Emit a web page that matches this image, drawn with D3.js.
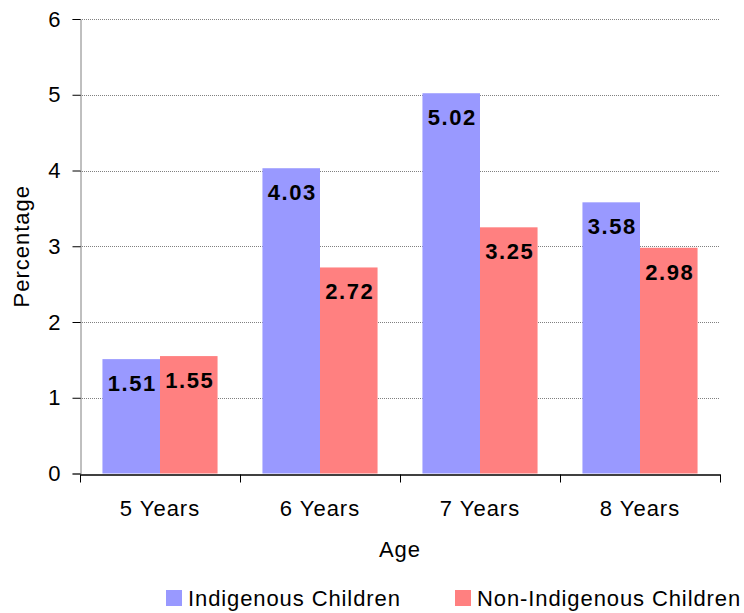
<!DOCTYPE html>
<html>
<head>
<meta charset="utf-8">
<script src="https://cdn.jsdelivr.net/npm/d3@7"></script>
<style>
  body { margin: 0; background: #fff; }
  svg { font-family: Arial, "Liberation Sans", sans-serif; }
</style>
</head>
<body>
<div id="chart"></div>
<script>
// data
const ages = ['5 Years', '6 Years', '7 Years', '8 Years'];
const seriesNames = ['Indigenous Children', 'Non-Indigenous Children'];
const indigenous = [1.51, 4.03, 5.02, 3.58];
const nonIndigenous = [1.55, 2.72, 3.25, 2.98];
const yTicks = [0, 1, 2, 3, 4, 5, 6];
const colors = ['#9999FF', '#FF8080'];

const width = 744, height = 613;
const m = { left: 80, right: 24, top: 19, bottom: 139.5 };

const svg = d3.select('#chart').append('svg')
  .attr('width', width)
  .attr('height', height);

const x = d3.scaleBand()
  .domain(ages)
  .range([m.left, width - m.right]);

const inner = d3.scaleBand()
  .domain(seriesNames)
  .range([0, x.bandwidth()])
  .paddingOuter(0.39);

const y = d3.scaleLinear()
  .domain([0, 6])
  .range([height - m.bottom, m.top]);

// gridlines
svg.append('g')
  .selectAll('line')
  .data(yTicks.filter(d => d > 0))
  .enter().append('line')
  .attr('x1', m.left).attr('x2', width - m.right)
  .attr('y1', d => Math.round(y(d)) + 0.5).attr('y2', d => Math.round(y(d)) + 0.5)
  .style('stroke', '#808080')
  .style('stroke-width', 1)
  .style('stroke-dasharray', '1,1');

// bars
const rows = ages.map((a, i) => ({ age: a, values: [indigenous[i], nonIndigenous[i]] }));
const groups = svg.append('g').selectAll('g')
  .data(rows)
  .enter().append('g')
  .attr('transform', d => `translate(${x(d.age)},0)`);

groups.selectAll('rect')
  .data(d => d.values.map((v, j) => ({ name: seriesNames[j], value: v, j })))
  .enter().append('rect')
  .attr('x', d => inner(d.name))
  .attr('width', inner.bandwidth())
  .attr('y', d => y(d.value))
  .attr('height', d => y(0) - y(d.value))
  .style('fill', d => colors[d.j]);

groups.selectAll('text')
  .data(d => d.values.map((v, j) => ({ name: seriesNames[j], value: v, j })))
  .enter().append('text')
  .attr('x', d => inner(d.name) + inner.bandwidth() / 2 + 1)
  .attr('y', d => y(d.value) + 32)
  .attr('text-anchor', 'middle')
  .style('font-weight', 'bold')
  .style('font-size', '22px')
  .style('letter-spacing', '1.5px')
  .style('fill', '#000')
  .text(d => d.value.toFixed(2));

// y axis
const yAxis = svg.append('g')
  .attr('transform', `translate(${m.left + 0.5},0)`)
  .call(d3.axisLeft(y).tickValues(yTicks).tickSize(8).tickPadding(12).tickFormat(d3.format('d')));
yAxis.select('.domain').attr('stroke', '#808080');
yAxis.selectAll('.tick line').attr('stroke', '#000');
yAxis.selectAll('text').style('font-size', '22px').attr('fill', '#000');

// x axis
const xAxis = svg.append('g')
  .attr('transform', `translate(0,${Math.round(y(0)) + 0.5})`)
  .call(d3.axisBottom(x).tickSize(0).tickPadding(26));
xAxis.select('.domain').attr('stroke', '#000').attr('stroke-width', 1.5);
xAxis.selectAll('text').style('font-size', '22px').style('letter-spacing', '1px').attr('fill', '#000');
// category separators
xAxis.append('g').selectAll('line')
  .data(ages.concat(['end']))
  .enter().append('line')
  .attr('x1', (d, i) => Math.round(i < ages.length ? x(d) : x(ages[ages.length - 1]) + x.bandwidth()) + 0.5)
  .attr('x2', (d, i) => Math.round(i < ages.length ? x(d) : x(ages[ages.length - 1]) + x.bandwidth()) + 0.5)
  .attr('y1', 0).attr('y2', 8)
  .attr('stroke', '#000');

// axis titles
svg.append('text')
  .attr('x', (m.left + width - m.right) / 2)
  .attr('y', 557)
  .attr('text-anchor', 'middle')
  .style('font-size', '22px')
  .style('letter-spacing', '1px')
  .text('Age');

svg.append('text')
  .attr('transform', `translate(29,${(m.top + height - m.bottom) / 2}) rotate(-90)`)
  .attr('text-anchor', 'middle')
  .style('font-size', '22px')
  .style('letter-spacing', '1px')
  .text('Percentage');

// legend
const legendX = [166, 455];
const legend = svg.append('g').selectAll('g')
  .data(seriesNames)
  .enter().append('g')
  .attr('transform', (d, i) => `translate(${legendX[i]},590)`);
legend.append('rect')
  .attr('width', 16).attr('height', 16)
  .style('fill', (d, i) => colors[i]);
legend.append('text')
  .attr('x', 22).attr('y', 16)
  .style('font-size', '22px')
  .style('letter-spacing', '0.9px')
  .text(d => d);
</script>
</body>
</html>
